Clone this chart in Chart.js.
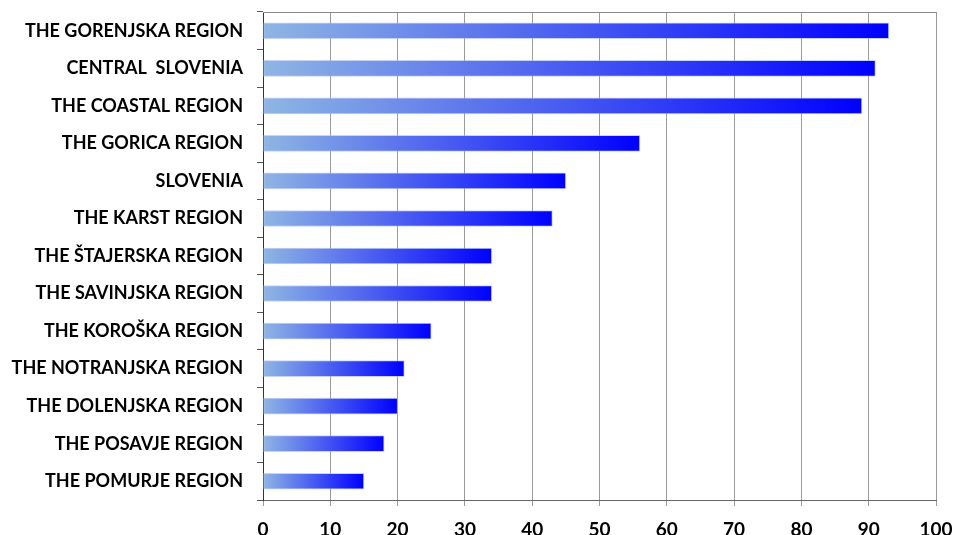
<!DOCTYPE html>
<html>
<head>
<meta charset="utf-8">
<script src="https://cdn.jsdelivr.net/npm/chart.js@4.4.1/dist/chart.umd.min.js"></script>
<style>
  html, body { margin: 0; padding: 0; background: #fff; }
</style>
</head>
<body>
<canvas id="barChart" width="957" height="535"></canvas>
<script>
const regions = [
  'THE GORENJSKA REGION', 'CENTRAL  SLOVENIA', 'THE COASTAL REGION', 'THE GORICA REGION',
  'SLOVENIA', 'THE KARST REGION', 'THE ŠTAJERSKA REGION', 'THE SAVINJSKA REGION',
  'THE KOROŠKA REGION', 'THE NOTRANJSKA REGION', 'THE DOLENJSKA REGION',
  'THE POSAVJE REGION', 'THE POMURJE REGION'
];
const shares = [93, 91, 89, 56, 45, 43, 34, 34, 25, 21, 20, 18, 15];
const xTicks = [0, 10, 20, 30, 40, 50, 60, 70, 80, 90, 100];

// each bar fades from pale blue at zero to full blue at its own end
function barGradient(context) {
  const chart = context.chart;
  if (!chart.chartArea) return '#4a6ee8';
  const x = chart.scales.x;
  const x0 = x.getPixelForValue(0);
  const x1 = x.getPixelForValue(context.raw);
  const g = chart.ctx.createLinearGradient(x0, 0, x1, 0);
  g.addColorStop(0, '#8fb6e3');
  g.addColorStop(1, '#0000ff');
  return g;
}

// top edge of the plot frame
const frameTop = {
  id: 'frameTop',
  afterDraw(chart) {
    const { ctx, chartArea } = chart;
    ctx.save();
    ctx.strokeStyle = '#8a8a8a';
    ctx.lineWidth = 1;
    ctx.beginPath();
    ctx.moveTo(chartArea.left, chartArea.top + 0.5);
    ctx.lineTo(chartArea.right, chartArea.top + 0.5);
    ctx.stroke();
    ctx.restore();
  }
};

const ctxBar = document.getElementById('barChart').getContext('2d');

const barChart = new Chart(ctxBar, {
  type: 'bar',
  data: {
    labels: regions,
    datasets: [{
      data: shares,
      backgroundColor: barGradient,
      borderColor: 'rgba(160, 180, 240, 0.6)',
      borderWidth: 1,
      borderSkipped: false,
      barThickness: 16,
    }]
  },
  options: {
    indexAxis: 'y',
    responsive: false,
    animation: false,
    layout: {
      padding: { top: 12, right: 21, bottom: 0, left: 0 }
    },
    plugins: {
      legend: { display: false },
      tooltip: { enabled: false },
    },
    scales: {
      x: {
        min: 0,
        max: 100,
        afterBuildTicks: (scale) => { scale.ticks = xTicks.map(v => ({ value: v })); },
        afterFit: (scale) => {
          scale.height = 35;
          scale.paddingLeft = 0;
          scale.paddingRight = 0;
        },
        grid: {
          color: '#9a9a9a',
          lineWidth: 1,
          tickLength: 6,
        },
        border: { display: true, color: '#666666', width: 1 },
        ticks: {
          color: '#000000',
          padding: 12,
          maxRotation: 0,
          autoSkip: false,
          font: { family: 'Lato', weight: 'bold', size: 19 },
        },
      },
      y: {
        afterFit: (scale) => {
          scale.width = 263;
          scale.paddingTop = 0;
          scale.paddingBottom = 0;
        },
        grid: {
          drawOnChartArea: false,
          offset: true,
          color: '#555555',
          tickLength: 6,
        },
        border: { display: true, color: '#333333', width: 1 },
        ticks: {
          color: '#000000',
          padding: 14,
          autoSkip: false,
          font: { family: 'Lato', weight: 'bold', size: 18 },
        },
      },
    },
  },
  plugins: [frameTop]
});
</script>
</body>
</html>
